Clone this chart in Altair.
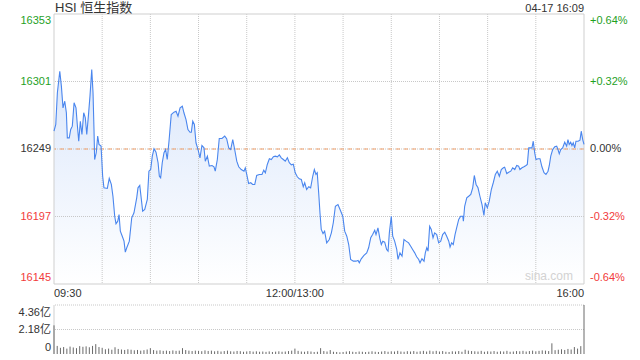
import altair as alt
import pandas as pd

# ---------------- data ----------------
price_minutes = [
    0, 1.1, 2.1, 3.6, 4.6, 5.6, 6.7, 7.7, 8.3, 9.5,
    10.4, 11.4, 12.5, 13.7, 14.5, 15.4, 16.4, 17.4, 18.5, 19.5,
    20.4, 21.4, 22.4, 23.5, 24.3, 24.9, 25.3, 26.3, 27.2, 28.0,
    29.3, 30.3, 31.1, 33.2, 34.4, 35.7, 36.7, 37.8, 38.6, 39.7,
    40.5, 41.3, 42.5, 43.6, 44.4, 45.3, 46.9, 48.4, 49.8, 51.5,
    52.3, 53.4, 54.4, 55.2, 56.5, 58.1, 59.1, 60.2, 61.2, 62.3,
    63.5, 64.8, 65.6, 66.4, 67.4, 68.5, 69.5, 70.5, 71.6, 73.0,
    74.7, 76.0, 77.2, 78.5, 79.9, 80.9, 82.2, 83.4, 84.7, 85.5,
    86.4, 87.4, 88.4, 89.7, 90.9, 92.1, 93.4, 94.2, 95.5, 96.7,
    98.4, 99.6, 100.4, 101.7, 102.9, 104.6, 106.3, 107.5, 108.8, 110.0,
    111.3, 112.5, 113.8, 115.0, 116.6, 118.3, 119.1, 120.0, 121.2, 122.5,
    123.7, 125.0, 126.2, 127.8, 129.5, 130.6, 131.6, 132.8, 134.1, 135.3,
    136.6, 137.8, 139.1, 140.3, 141.5, 142.8, 144.0, 145.3, 146.5, 147.8,
    149.0, 150.2, 151.5, 152.7, 154.0, 155.2, 156.1, 157.3, 158.6, 159.8,
    161.1, 162.1, 163.1, 163.9, 164.8, 165.6, 166.4, 167.5, 168.5, 169.8,
    171.4, 172.7, 173.9, 175.2, 176.8, 178.1, 179.8, 181.0, 182.3, 183.5,
    184.7, 186.4, 188.0, 189.3, 190.1, 191.3, 193.0, 194.7, 195.9, 197.2,
    198.4, 199.7, 200.5, 201.7, 203.0, 203.8, 204.7, 205.9, 207.1, 208.0,
    208.8, 210.0, 210.9, 212.1, 213.4, 214.2, 215.4, 216.7, 217.9, 219.2,
    220.8, 222.1, 223.3, 224.6, 225.8, 227.1, 227.9, 229.1, 230.4, 231.2,
    232.1, 232.9, 233.9, 234.9, 236.0, 237.0, 238.3, 239.5, 240.8, 242.0,
    243.3, 244.5, 245.8, 246.6, 247.6, 248.6, 249.7, 250.7, 252.0, 253.2,
    254.5, 254.9, 255.7, 257.0, 258.2, 259.5, 260.7, 261.7, 262.8, 264.0,
    265.2, 266.5, 267.7, 268.5, 269.8, 271.0, 272.3, 273.5, 274.8, 276.0,
    277.3, 278.5, 279.8, 280.6, 281.9, 283.1, 284.4, 285.6, 286.9, 288.1,
    289.3, 290.1, 291.4, 292.6, 293.9, 294.7, 295.6, 296.4, 297.6, 298.4,
    299.3, 300.1, 301.4, 302.6, 303.8, 305.1, 306.3, 307.6, 308.4, 309.3,
    310.5, 311.8, 313.0, 313.8, 314.6, 315.5, 316.7, 318.0, 319.2, 320.0,
    320.8, 321.7, 322.5, 323.3, 324.2, 325.0, 326.3, 327.5, 328.3, 329.2, 330,
]
price_values = [
    16262.7, 16267.9, 16292.3, 16308.9, 16297.4, 16280.7, 16285.8, 16276.9, 16257.6, 16257.6,
    16264.0, 16266.6, 16284.6, 16280.7, 16267.9, 16255.0, 16270.4, 16260.2, 16276.9, 16273.0,
    16260.2, 16274.3, 16289.7, 16310.2, 16292.3, 16264.0, 16240.9, 16246.1, 16258.9, 16252.5,
    16251.2, 16228.0, 16219.1, 16218.6, 16226.3, 16221.7, 16212.6, 16197.2, 16191.4, 16193.4,
    16198.5, 16185.7, 16181.8, 16178.0, 16169.5, 16172.9, 16178.0, 16196.0, 16199.9, 16211.4,
    16219.1, 16220.9, 16210.1, 16201.1, 16202.4, 16210.1, 16231.9, 16233.2, 16243.5, 16249.2,
    16246.5, 16238.4, 16228.0, 16226.8, 16238.4, 16246.1, 16248.6, 16240.9, 16255.0, 16275.6,
    16277.4, 16278.1, 16274.3, 16280.7, 16282.0, 16276.9, 16271.7, 16264.0, 16261.9, 16261.9,
    16270.4, 16267.9, 16253.8, 16248.6, 16242.2, 16251.7, 16249.9, 16239.6, 16243.5, 16235.8,
    16236.3, 16235.3, 16231.9, 16240.9, 16257.1, 16257.1, 16258.9, 16256.9, 16249.9, 16248.6,
    16256.3, 16248.6, 16239.6, 16235.3, 16233.2, 16231.9, 16234.5, 16229.4, 16222.4, 16223.0,
    16221.7, 16221.7, 16228.6, 16229.4, 16229.4, 16232.7, 16230.7, 16237.1, 16241.5, 16240.9,
    16243.0, 16243.5, 16243.0, 16244.5, 16242.2, 16240.9, 16239.6, 16242.2, 16238.4, 16236.8,
    16237.3, 16230.7, 16227.6, 16226.0, 16225.5, 16219.9, 16223.0, 16217.8, 16219.9, 16219.1,
    16228.0, 16233.2, 16229.4, 16230.7, 16215.3, 16199.9, 16187.0, 16183.9, 16185.7, 16176.7,
    16179.3, 16184.4, 16192.2, 16204.9, 16206.2, 16202.4, 16197.2, 16185.7, 16181.8, 16175.4,
    16163.9, 16162.6, 16162.6, 16163.1, 16161.3, 16164.4, 16167.0, 16169.0, 16172.9, 16180.6,
    16183.1, 16186.4, 16183.1, 16188.3, 16179.3, 16175.4, 16178.0, 16177.2, 16171.6, 16170.3,
    16184.4, 16197.2, 16181.8, 16178.0, 16171.6, 16163.9, 16169.0, 16166.4, 16179.3, 16178.0,
    16176.7, 16174.1, 16171.6, 16169.0, 16166.0, 16163.9, 16161.3, 16164.4, 16162.6, 16169.0,
    16172.9, 16170.3, 16189.5, 16187.0, 16180.6, 16184.4, 16183.1, 16176.7, 16178.0, 16183.1,
    16184.9, 16181.8, 16178.0, 16173.5, 16176.7, 16175.4, 16183.1, 16188.3, 16194.7, 16197.2,
    16197.2, 16193.4, 16204.9, 16211.4, 16212.6, 16214.0, 16219.1, 16228.6, 16221.7, 16219.1,
    16212.6, 16206.2, 16197.8, 16207.6, 16203.7, 16208.8, 16217.8, 16223.0, 16229.4, 16231.9,
    16228.0, 16233.2, 16234.5, 16235.0, 16230.1, 16231.1, 16231.9, 16234.5, 16233.2, 16236.3,
    16235.8, 16233.2, 16234.5, 16235.3, 16236.3, 16237.1, 16249.9, 16249.9, 16249.9, 16255.0,
    16246.1, 16240.9, 16241.5, 16241.5, 16235.3, 16230.7, 16229.4, 16231.9, 16236.3, 16243.5,
    16248.6, 16250.7, 16251.2, 16248.6, 16245.3, 16248.6, 16249.9, 16254.2, 16251.2, 16256.3,
    16252.5, 16254.2, 16251.7, 16253.8, 16249.9, 16255.0, 16255.0, 16255.8, 16262.7, 16256.3, 16252.5,
]

# volume in 亿, one bar every two minutes, last one is the closing auction
vol_values = [
    2.55, 0.72, 0.55, 0.62, 0.48, 0.66, 0.58, 0.52, 0.70, 0.64, 0.68, 0.60, 0.72, 0.88, 0.62,
    0.55, 0.42, 0.48, 0.38, 0.60, 0.45, 0.40, 0.36, 0.42, 0.38, 0.33, 0.36, 0.30, 0.34, 0.40,
    0.52, 0.35, 0.30, 0.33, 0.28,
    0.30, 0.26, 0.32, 0.28, 0.30, 0.52, 0.35, 0.30, 0.26, 0.30, 0.28, 0.25, 0.32, 0.27, 0.30,
    0.24, 0.28, 0.22, 0.26, 0.30, 0.24, 0.22, 0.27, 0.25, 0.20, 0.23, 0.26, 0.21, 0.24, 0.20,
    0.22, 0.19, 0.23, 0.18, 0.21, 0.24, 0.20, 0.22, 0.26, 0.30,
    0.48, 0.28, 0.22, 0.20, 0.25, 0.22, 0.18, 0.20, 0.52, 0.26, 0.22, 0.35, 0.20, 0.18, 0.15,
    0.18, 0.22, 0.25, 0.20, 0.18, 0.22, 0.20, 0.17, 0.20, 0.24,
    0.20, 0.18, 0.22, 0.26, 0.20, 0.24, 0.22, 0.28, 0.22, 0.20, 0.25, 0.22, 0.26, 0.20, 0.24,
    0.28, 0.22, 0.30, 0.24, 0.28, 0.22, 0.26, 0.20, 0.18, 0.24,
    0.22, 0.26, 0.20, 0.38, 0.30, 0.26, 0.24, 0.22, 0.28, 0.20, 0.24, 0.22, 0.26, 0.20, 0.24,
    0.22, 0.28, 0.20, 0.22, 0.26, 0.24, 0.28, 0.22, 0.26, 0.30,
    0.24, 0.28, 0.32, 0.30, 0.26, 0.95, 0.34, 0.38, 0.42, 0.36, 0.45, 0.40, 0.62, 0.48, 0.70,
    4.36,
]
vol_minutes = list(range(0, 330, 2)) + [330]

price_ticks = [16353, 16301, 16249, 16197, 16145]
price_tick_labels = ["16353", "16301", "16249", "16197", "16145"]
pct_labels = ["+0.64%", "+0.32%", "0.00%", "-0.32%", "-0.64%"]
tick_dirs = ["up", "up", "flat", "down", "down"]
prev_close = 16249
grid_minutes = [30, 60, 90, 120, 150, 180, 210, 240, 270, 300]
time_minutes = [0, 150, 330]
time_labels = ["09:30", "12:00/13:00", "16:00"]
vol_ticks = [4.36, 2.18, 0]
vol_tick_labels = ["4.36亿", "2.18亿", "0"]
title_text = "HSI 恒生指数"
stamp_text = "04-17 16:09"
watermark_text = "sina.com"

# ---------------- layout ----------------
W = 530
MAIN_H = 270
VOL_H = 49
TOTAL_H = 340
FONT = "Liberation Sans, Arial, Noto Sans CJK SC, sans-serif"
GREEN = "#1fa11f"
RED = "#f23b3b"
DARK = "#333333"
GRID = "#c8c8c8"
BORDER = "#cfcfcf"

hi, lo = price_ticks[0], price_ticks[-1]
t0, t1 = time_minutes[0], time_minutes[-1]
price_dom = [hi - (hi - lo) * TOTAL_H / MAIN_H, hi]
vol_dom = [0, vol_ticks[0] * TOTAL_H / VOL_H]

xs = alt.Scale(domain=[t0, t1], nice=False, zero=False)
ps = alt.Scale(domain=price_dom, nice=False, zero=False)
vs = alt.Scale(domain=vol_dom, nice=False, zero=False)

def X(f):
    return alt.X(f, scale=xs, axis=None)

def PY(f):
    return alt.Y(f, scale=ps, axis=None)

def VY(f):
    return alt.Y(f, scale=vs, axis=None)

price_df = pd.DataFrame({"m": price_minutes, "v": price_values})
price_df["base"] = lo

n = len(price_ticks)
ticks_df = pd.DataFrame({
    "v": price_ticks, "label": price_tick_labels, "pct": pct_labels, "dir": tick_dirs,
    "pos": ["top"] + ["mid"] * (n - 2) + ["bottom"],
})
ticks_df["left"] = t0
ticks_df["right"] = t1

hgrid_df = pd.DataFrame({"v": price_ticks[1:-1]})
vgrid_df = pd.DataFrame({"m": grid_minutes})
vgrid_df["top"] = hi
vgrid_df["bottom"] = lo
close_df = pd.DataFrame({"v": [prev_close]})
hborder_df = pd.DataFrame({"v": [hi, lo]})
vborder_df = pd.DataFrame({"m": [t0, t1]})
vborder_df["top"] = hi
vborder_df["bottom"] = lo

time_df = pd.DataFrame({"m": time_minutes, "label": time_labels, "pos": ["left", "center", "right"]})
time_df["v"] = lo

head_df = pd.DataFrame({"m": [t0, t1], "v": [hi, hi], "label": [title_text, stamp_text]})
wm_df = pd.DataFrame({"m": [t1], "v": [lo], "label": [watermark_text]})

vol_df = pd.DataFrame({"m": vol_minutes, "vol": vol_values})
vol_df["zero"] = 0
vgridv_df = pd.DataFrame({"v": vol_ticks[:-1]})
vleft_df = pd.DataFrame({"m": [t0], "top": [vol_ticks[0]], "bottom": [0]})
vticks_df = pd.DataFrame({"v": vol_ticks, "label": vol_tick_labels,
                          "pos": ["top"] + ["mid"] * (len(vol_ticks) - 2) + ["bottom"]})
vticks_df["left"] = t0

color_scale = alt.Scale(domain=["up", "flat", "down"], range=[GREEN, DARK, RED])

# ---------------- layers ----------------
area = alt.Chart(price_df).mark_area(
    color=alt.Gradient(
        gradient="linear",
        stops=[alt.GradientStop(color="#dbe7fb", offset=0),
               alt.GradientStop(color="#ffffff", offset=1)],
        x1=1, x2=1, y1=0, y2=1,
    )
).encode(x=X("m:Q"), y=PY("v:Q"), y2="base:Q")

hgrid = alt.Chart(hgrid_df).mark_rule(color=GRID, strokeDash=[1, 1], strokeWidth=1).encode(y=PY("v:Q"))
vgrid = alt.Chart(vgrid_df).mark_rule(color=GRID, strokeDash=[1, 1], strokeWidth=1).encode(
    x=X("m:Q"), y=PY("top:Q"), y2="bottom:Q")
close_rule = alt.Chart(close_df).mark_rule(color="#f2a06a", strokeDash=[4, 4], strokeWidth=1).encode(
    y=PY("v:Q"))
hborder = alt.Chart(hborder_df).mark_rule(color=BORDER, strokeWidth=1).encode(y=PY("v:Q"))
vborder = alt.Chart(vborder_df).mark_rule(color=BORDER, strokeWidth=1).encode(
    x=X("m:Q"), y=PY("top:Q"), y2="bottom:Q")

line = alt.Chart(price_df).mark_line(color="#4a86ee", strokeWidth=1.1).encode(
    x=X("m:Q"), y=PY("v:Q"))

def tick_text(pos, baseline, dy, field, xfield, align, dx):
    return alt.Chart(ticks_df).transform_filter(alt.datum.pos == pos).mark_text(
        align=align, baseline=baseline, dx=dx, dy=dy, fontSize=11, font=FONT
    ).encode(
        x=X(f"{xfield}:Q"), y=PY("v:Q"), text=f"{field}:N",
        color=alt.Color("dir:N", scale=color_scale, legend=None),
    )

left_labels = [
    tick_text("top", "top", 1, "label", "left", "right", -3),
    tick_text("mid", "middle", 0, "label", "left", "right", -3),
    tick_text("bottom", "bottom", -1, "label", "left", "right", -3),
]
right_labels = [
    tick_text("top", "top", 1, "pct", "right", "left", 6),
    tick_text("mid", "middle", 0, "pct", "right", "left", 6),
    tick_text("bottom", "bottom", -1, "pct", "right", "left", 6),
]

time_text = [
    alt.Chart(time_df).transform_filter(alt.datum.pos == p).mark_text(
        align=p, baseline="top", dy=4, fontSize=11, font=FONT, color=DARK
    ).encode(x=X("m:Q"), y=PY("v:Q"), text="label:N")
    for p in ["left", "center", "right"]
]

title = alt.Chart(head_df.iloc[[0]]).mark_text(
    align="left", baseline="alphabetic", dx=1, dy=-2.5, fontSize=13, font=FONT, color=DARK
).encode(x=X("m:Q"), y=PY("v:Q"), text="label:N")
stamp = alt.Chart(head_df.iloc[[1]]).mark_text(
    align="right", baseline="alphabetic", dy=-2.5, fontSize=11, font=FONT, color=DARK
).encode(x=X("m:Q"), y=PY("v:Q"), text="label:N")
watermark = alt.Chart(wm_df).mark_text(
    align="right", baseline="bottom", dx=-11, dy=-1, fontSize=12, font=FONT, color="#d2d2d2"
).encode(x=X("m:Q"), y=PY("v:Q"), text="label:N")

vgrid_vol = alt.Chart(vgridv_df).mark_rule(color=GRID, strokeDash=[1, 1], strokeWidth=1).encode(
    y=VY("v:Q"))
vleft = alt.Chart(vleft_df).mark_rule(color=BORDER, strokeWidth=1).encode(
    x=X("m:Q"), y=VY("top:Q"), y2="bottom:Q")
vol_bars = alt.Chart(vol_df).mark_rule(color="#6a6a6a", strokeWidth=1).encode(
    x=X("m:Q"), y=VY("vol:Q"), y2="zero:Q")

def vol_text(pos, baseline, dy):
    return alt.Chart(vticks_df).transform_filter(alt.datum.pos == pos).mark_text(
        align="right", baseline=baseline, dx=-3, dy=dy, fontSize=11, font=FONT, color=DARK
    ).encode(x=X("left:Q"), y=VY("v:Q"), text="label:N")

vol_labels = [vol_text("top", "top", 2), vol_text("mid", "middle", 0), vol_text("bottom", "bottom", -1)]

layers = [area, hgrid, vgrid, close_rule, hborder, vborder, line, title, stamp, watermark] \
    + left_labels + right_labels + time_text + [vgrid_vol, vleft, vol_bars] + vol_labels

chart = alt.layer(*layers).resolve_scale(y="independent", color="independent").properties(
    width=W,
    height=TOTAL_H,
    autosize=alt.AutoSizeParams(type="none"),
    padding={"left": 54, "top": 14, "right": 56, "bottom": 6},
    background="white",
).configure_view(stroke=None)

chart.save("out.html", embed_options={"renderer": "svg", "actions": False})
